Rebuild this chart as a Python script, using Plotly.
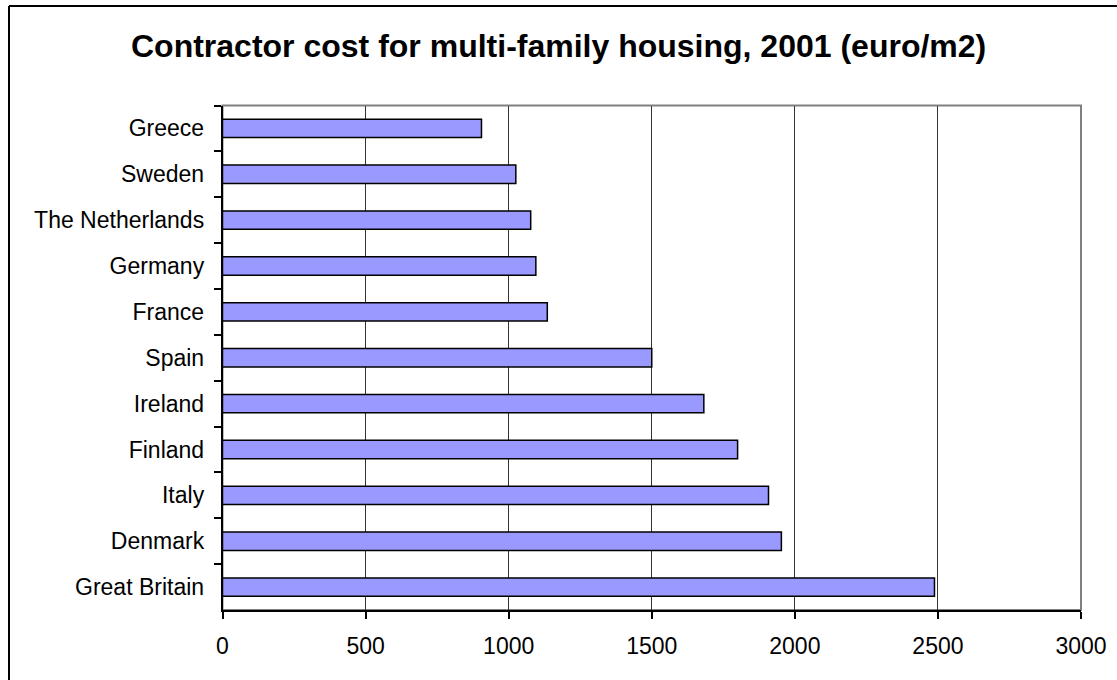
import plotly.graph_objects as go

# Contractor cost per square metre of multi-family housing, 2001
countries = ["Greece", "Sweden", "The Netherlands", "Germany", "France", "Spain",
             "Ireland", "Finland", "Italy", "Denmark", "Great Britain"]
cost_eur_m2 = [905, 1025, 1077, 1095, 1135, 1500, 1682, 1800, 1908, 1953, 2488]

x_ticks = [0, 500, 1000, 1500, 2000, 2500, 3000]
title_text = "Contractor cost for multi-family housing, 2001 (euro/m2)"

W, H = 1117, 680
plot_left, plot_right, plot_top, plot_bottom = 222.5, 1081, 105.5, 610

fig = go.Figure(go.Bar(
    y=countries,
    x=cost_eur_m2,
    orientation="h",
    marker=dict(color="#9999FF", line=dict(color="#000000", width=1.5)),
    hoverinfo="x+y",
))

font_family = "Liberation Sans, Arial, sans-serif"

fig.update_layout(
    width=W, height=H,
    margin=dict(l=0, r=0, t=0, b=0, autoexpand=False),
    paper_bgcolor="white",
    plot_bgcolor="white",
    bargap=0.6,
    showlegend=False,
    font=dict(family=font_family, color="#000000"),
    xaxis=dict(
        domain=[plot_left / W, plot_right / W],
        range=[0, 3000],
        tickvals=x_ticks,
        ticktext=[str(v) for v in x_ticks],
        tickfont=dict(size=23, family=font_family, color="#000000"),
        ticks="outside", ticklen=7, tickwidth=1.5, tickcolor="#000000",
        showline=True, linecolor="#000000", linewidth=1.5,
        showgrid=True, gridcolor="#333333", gridwidth=1,
        zeroline=False,
        automargin=False,
        ticklabelstandoff=8,
        fixedrange=True,
    ),
    yaxis=dict(
        domain=[1 - plot_bottom / H, 1 - plot_top / H],
        autorange="reversed",
        type="category",
        tickfont=dict(size=23, family=font_family, color="#000000"),
        ticks="outside", ticklen=7, tickwidth=1.5, tickcolor="#000000",
        tickson="boundaries",
        showline=True, linecolor="#000000", linewidth=1.5,
        showgrid=False,
        zeroline=False,
        automargin=False,
        ticklabelstandoff=12,
        fixedrange=True,
    ),
    shapes=[
        # plot area frame
        dict(type="rect", xref="x domain", yref="y domain", x0=0, x1=1, y0=0, y1=1,
             line=dict(color="#808080", width=2), layer="below"),
        # chart frame (left and top edges)
        dict(type="line", xref="paper", yref="paper",
             x0=9 / W, x1=9 / W, y0=0, y1=1 - 6 / H,
             line=dict(color="#000000", width=2)),
        dict(type="line", xref="paper", yref="paper",
             x0=9 / W, x1=1, y0=1 - 6 / H, y1=1 - 6 / H,
             line=dict(color="#000000", width=2)),
    ],
    annotations=[
        dict(text="<b>" + title_text + "</b>", xref="paper", yref="paper",
             x=0.5, y=1 - 46 / H, xanchor="center", yanchor="middle",
             showarrow=False, font=dict(size=32, family=font_family, color="#000000")),
    ],
)

fig.write_html("out.html")
